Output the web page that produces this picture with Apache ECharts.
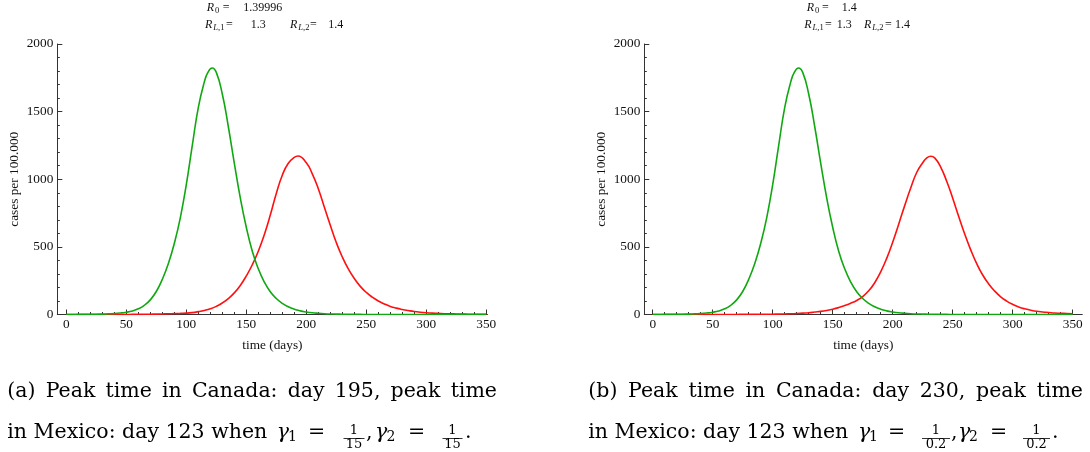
<!DOCTYPE html>
<html>
<head>
<meta charset="utf-8">
<script src="https://cdn.jsdelivr.net/npm/echarts@6/dist/echarts.min.js"></script>
<style>
html,body{margin:0;padding:0;background:#fff;}
#c{width:1090px;height:452px;}
</style>
</head>
<body>
<div id="c"></div>
<script>
// ---- data ----
// Mexico (green), same in both panels
const mexicoDays = [0,5,10,15,20,25,30,35,40,45,50,55,60,65,70,75,80,85,90,95,
  100,105,110,115,118,121.5,125,130,135,140,145,150,155,160,165,170,175,180,185,190,195,
  200,205,210,215,220,225,230,235,240,245,250,260,280,300,320,350];
const mexico = [0,0,1,1,2,2,3,5,7,11,17,26,42,68,108,170,260,375,525,715,
  960,1250,1530,1718,1790,1822,1790,1630,1390,1120,862,645,468,338,240,168,118,82,57,39,27,
  19,13,9,6,4,3,2,1,1,1,0,0,0,0,0,0];

// Canada (red), panel (a)
const canadaADays = [0,20,40,50,55,60,65,70,75,80,85,90,95,
  100,105,110,115,120,125,130,135,140,145,150,155,160,165,170,175,180,185,190,193,
  200,205,210,215,220,225,230,235,240,245,250,255,260,265,270,275,280,285,290,295,
  300,305,310,315,320,325,330,335,340,345,350];
const canadaA = [0,0,0,0,1,1,1.5,2,3,4,5,7,8.5,
  10,14,21,30,42,60,85,118,160,215,285,368,468,590,735,895,1030,1118,1161,1172,
  1122,1040,930,795,660,532,425,337,266,208,163,128,100,78,60,47,37,29,22,17,
  13,10,8,6,5,4,3,2,2,1,1];

// Canada (red), panel (b)
const canadaBDays = [0,20,40,60,65,70,75,80,85,90,95,
  100,105,110,115,120,125,130,135,140,145,150,155,160,165,170,175,180,185,190,195,
  200,205,210,215,220,225,228.5,231.7,235,240,245,250,255,260,265,270,275,280,285,290,295,
  300,305,310,315,320,325,330,335,340,345,350];
const canadaB = [0,0,0,0,0.5,0.5,1,1,1,1.5,1.5,
  2,3,4,5,7,10,13,18,23,30,39,51,66,83,104,133,175,235,315,415,
  535,668,805,935,1050,1122,1158,1170,1158,1090,985,860,725,595,478,376,292,226,173,131,99,
  75,56,42,32,24,19,15,11,9,7,5];

const xTicks = [0,50,100,150,200,250,300,350];
const yTicks = [0,500,1000,1500,2000];

// ---- chart ----
const FONT = 'Liberation Serif';
const AX = '#333';
const xMinor = [];
for (let v = 0; v <= 350; v += 10) if (v % 50 !== 0) xMinor.push(v);

function pairs(ds, vals){ return ds.map((d,i)=>[d, vals[i]]); }

const grids = [
  {left:57.3, top:44, width:430.2, height:270.5},
  {left:644.3, top:44, width:438, height:270.5}
];
const xr = [[-7.5,351],[-7,358]];

const xAxis = [], yAxis = [];
grids.forEach((g,gi)=>{
  xAxis.push({
    type:'value', gridIndex:gi, min:xr[gi][0], max:xr[gi][1], position:'bottom',
    axisLine:{show:true,onZero:false,lineStyle:{color:AX,width:1}},
    axisTick:{show:true,inside:true,length:5,customValues:xTicks,lineStyle:{color:AX,width:1}},
    axisLabel:{show:true,customValues:xTicks,fontFamily:FONT,fontSize:13.3,color:'#111',margin:4,
      formatter:v=>String(v)},
    splitLine:{show:false},
    name:'time (days)', nameLocation:'middle', nameGap:25,
    nameTextStyle:{fontFamily:FONT,fontSize:13.3,color:'#111'}
  });
  xAxis.push({
    type:'value', gridIndex:gi, min:xr[gi][0], max:xr[gi][1], position:'bottom',
    axisLine:{show:false,onZero:false},
    axisTick:{show:true,inside:true,length:2.5,customValues:xMinor,lineStyle:{color:AX,width:1}},
    axisLabel:{show:false}, splitLine:{show:false}
  });
  yAxis.push({
    type:'value', gridIndex:gi, min:yTicks[0], max:yTicks[yTicks.length-1], interval:500,
    axisLine:{show:true,onZero:false,lineStyle:{color:AX,width:1}},
    axisTick:{show:true,inside:true,length:5,lineStyle:{color:AX,width:1}},
    minorTick:{show:true,splitNumber:5,length:2.5,lineStyle:{color:AX,width:1}},
    axisLabel:{fontFamily:FONT,fontSize:13.3,color:'#111',margin:4,formatter:v=>String(v)},
    splitLine:{show:false}, minorSplitLine:{show:false},
    name:'cases per 100.000', nameLocation:'middle', nameGap:36, nameRotate:90,
    nameTextStyle:{fontFamily:FONT,fontSize:13.3,color:'#111'}
  });
});

const GREEN = '#10a810', RED = '#ff1010';
function line(xi, yi, ds, vals, color){
  return {type:'line', xAxisIndex:xi, yAxisIndex:yi, data:pairs(ds, vals), showSymbol:false,
    smooth:0.5, lineStyle:{color:color,width:1.6}, itemStyle:{color:color}, silent:true, animation:false};
}
const series = [
  line(0,0,canadaADays,canadaA,RED), line(0,0,mexicoDays,mexico,GREEN),
  line(2,1,canadaBDays,canadaB,RED), line(2,1,mexicoDays,mexico,GREEN)
];

// ---- text (headers, captions) ----
function T(x,y,s,o){
  return {type:'text', x:x, y:y, silent:true,
    style:Object.assign({text:s, fontFamily:FONT, fontSize:12, fill:'#111', align:'left', verticalAlign:'middle'}, o||{})};
}
const SUB = {fontSize:8.5, rich:{i:{fontStyle:'italic',fontSize:8.5,fontFamily:FONT}}};
function R(x,y){ return T(x,y,'R',{fontStyle:'italic'}); }
function S(x,y,s){ return T(x,y+3,s,SUB); }

const CF = 'DejaVu Serif', CS = 20.5;
function C(x,y,s,o){ return T(x,y,s,Object.assign({fontFamily:CF,fontSize:CS,fill:'#000'},o||{})); }
function frac(cx, num, den, w){
  return [
    C(cx,431,num,{fontSize:13,align:'center'}),
    {type:'line', silent:true, shape:{x1:cx-w/2,y1:438.5,x2:cx+w/2,y2:438.5}, style:{stroke:'#000',lineWidth:0.8}},
    C(cx,445,den,{fontSize:13,align:'center'})
  ];
}
// justified caption line: words spread between x0 and x1
const mctx = document.createElement('canvas').getContext('2d');
mctx.font = CS + 'px "' + CF + '"';
function justify(x0, x1, y, s){
  const words = s.split(' ');
  const ws = words.map(w=>mctx.measureText(w).width);
  const sum = ws.reduce((a,b)=>a+b,0);
  const gap = (x1 - x0 - sum) / (words.length - 1);
  const out = []; let x = x0;
  words.forEach((w,i)=>{ out.push(C(x,y,w)); x += ws[i] + gap; });
  return out;
}

const graphic = [
  // panel (a) header
  R(206.7,8), S(215,8,'0'), T(222.7,8,'='), T(243.3,8,'1.39996'),
  R(205,25), S(213.3,25,'{i|L},1'), T(226,25,'='), T(250.7,25,'1.3'),
  R(290,25), S(298.3,25,'{i|L},2'), T(310,25,'='), T(328.3,25,'1.4'),
  // panel (b) header
  R(806.7,8), S(815,8,'0'), T(822,8,'='), T(841.7,8,'1.4'),
  R(804.3,25), S(812.6,25,'{i|L},1'), T(825,25,'='), T(836.7,25,'1.3'),
  R(864,25), S(872.3,25,'{i|L},2'), T(885,25,'='), T(895,25,'1.4'),
  // caption (a)
  ...justify(7.3, 497, 392, '(a) Peak time in Canada: day 195, peak time'),
  C(7.3,433,'in Mexico: day 123 when'),
  C(276.7,433,'γ',{fontStyle:'italic'}), C(288,437,'1',{fontSize:14}),
  C(308,433,'='), ...frac(354,'1','15',21),
  C(366,433,','), C(375,433,'γ',{fontStyle:'italic'}), C(386.5,437,'2',{fontSize:14}),
  C(408,433,'='), ...frac(452.5,'1','15',20), C(465,433,'.'),
  // caption (b)
  ...justify(588.3, 1083, 392, '(b) Peak time in Canada: day 230, peak time'),
  C(588.3,433,'in Mexico: day 123 when'),
  C(858,433,'γ',{fontStyle:'italic'}), C(869,437,'1',{fontSize:14}),
  C(888,433,'='), ...frac(936,'1','0.2',28),
  C(951,433,','), C(958,433,'γ',{fontStyle:'italic'}), C(969,437,'2',{fontSize:14}),
  C(990,433,'='), ...frac(1036.5,'1','0.2',27), C(1052,433,'.')
];

const chart = echarts.init(document.getElementById('c'), null, {renderer:'canvas'});
chart.setOption({
  animation:false,
  backgroundColor:'#fff',
  grid:grids,
  xAxis:xAxis, yAxis:yAxis, series:series, graphic:graphic
});
</script>
</body>
</html>
